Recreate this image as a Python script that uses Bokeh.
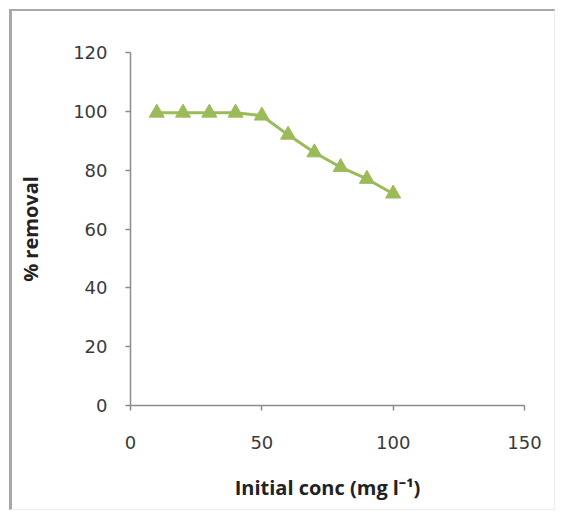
from bokeh.plotting import figure
from bokeh.models import Range1d, FixedTicker
from bokeh.embed import file_html
from bokeh.resources import INLINE

# data
conc = [10, 20, 30, 40, 50, 60, 70, 80, 90, 100]
removal = [99.5, 99.5, 99.5, 99.5, 98.5, 92, 86, 81, 77, 72]
x_ticks = [0, 50, 100, 150]
y_ticks = [0, 20, 40, 60, 80, 100, 120]

GREEN = "#9bbb59"
AXIS = "#8c8c8c"
TXT = "#3a3a3a"

p = figure(width=546, height=501, output_backend="svg", toolbar_location=None,
           x_range=Range1d(0, 150), y_range=Range1d(0, 120),
           min_border_left=118, min_border_right=34, min_border_top=41, min_border_bottom=107)
p.styles = {"border-left": "3px solid #a8a8a8", "border-top": "2px solid #a8a8a8",
            "border-right": "1px solid #eeeeee", "border-bottom": "1px solid #eeeeee",
            "margin-left": "9px", "margin-top": "9px"}

p.line(conc, removal, line_color=GREEN, line_width=3)
p.scatter(conc, removal, marker="triangle", size=15, fill_color=GREEN, line_color=GREEN)

p.grid.visible = False
p.outline_line_color = None

p.xaxis.ticker = FixedTicker(ticks=x_ticks)
p.yaxis.ticker = FixedTicker(ticks=y_ticks)
for ax in (p.xaxis[0], p.yaxis[0]):
    ax.axis_line_color = AXIS
    ax.axis_line_width = 1.5
    ax.major_tick_line_color = AXIS
    ax.major_tick_line_width = 1.5
    ax.major_tick_out = 5
    ax.major_tick_in = 0
    ax.minor_tick_line_color = None
    ax.major_label_text_font = "DejaVu Sans"
    ax.major_label_text_font_size = "18px"
    ax.major_label_text_color = TXT
    ax.axis_label_text_font = "Open Sans"
    ax.axis_label_text_font_style = "bold"
    ax.axis_label_text_font_size = "20px"
    ax.axis_label_text_color = "#222222"

p.yaxis.major_label_standoff = 18
p.xaxis.major_label_standoff = 25
p.xaxis.axis_label = "Initial conc (mg l\u207b\u00b9)"
p.yaxis.axis_label = "% removal"
p.xaxis.axis_label_standoff = 22
p.yaxis.axis_label_standoff = 26

open("out.html", "w").write(file_html(p, INLINE))
